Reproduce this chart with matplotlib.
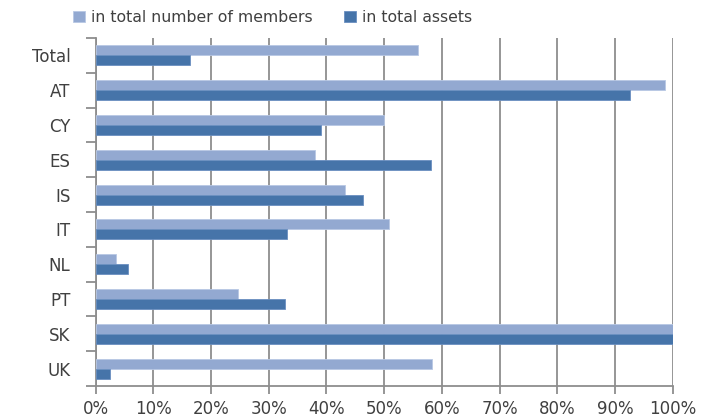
import numpy as np
import matplotlib
matplotlib.use("Agg")
import matplotlib.pyplot as plt
from matplotlib.ticker import FixedLocator, FuncFormatter

categories = ["Total", "AT", "CY", "ES", "IS", "IT", "NL", "PT", "SK", "UK"]
share_members = [55.9, 98.6, 50.0, 38.0, 43.2, 50.8, 3.5, 24.6, 100.0, 58.3]
share_assets = [16.4, 92.6, 39.1, 58.2, 46.4, 33.1, 5.7, 32.9, 100.0, 2.5]
x_ticks = list(range(0, 101, 10))

light = "#93A9D1"
dark = "#4674A9"
grid_c = "#8E8E8E"
text_c = "#404040"

plt.rcParams["font.family"] = ["DejaVu Sans"]

fig = plt.figure(figsize=(7.05, 4.17), dpi=100)
ax = fig.add_axes([0.1355, 0.0743, 0.8187, 0.8346])

n = len(categories)
pos = np.arange(n)[::-1].astype(float)  # Total at the top
bh = 0.285
ax.barh(pos + bh / 2, share_members, height=bh, color=light,
        edgecolor="#B8C8E4", linewidth=0.6, label="in total number of members", zorder=3)
ax.barh(pos - bh / 2, share_assets, height=bh, color=dark,
        edgecolor="#6A8FC0", linewidth=0.6, label="in total assets", zorder=3)

ax.set_xlim(0, 100)
ax.set_ylim(-0.5, n - 0.5)

ax.set_xticks(x_ticks)
ax.xaxis.set_major_formatter(FuncFormatter(lambda v, p: f"{int(v)}%"))
ax.set_yticks(pos)
ax.set_yticklabels(categories)
ax.yaxis.set_minor_locator(FixedLocator(np.arange(n + 1) - 0.5))

ax.grid(axis="x", color=grid_c, linewidth=1.3, zorder=0)
ax.set_axisbelow(True)

for s in ["top", "right"]:
    ax.spines[s].set_visible(False)
for s in ["left", "bottom"]:
    ax.spines[s].set_color(grid_c)
    ax.spines[s].set_linewidth(1.3)

ax.tick_params(axis="y", which="major", length=0, pad=18, labelsize=12, labelcolor=text_c)
ax.tick_params(axis="y", which="minor", length=7, width=1.3, color=grid_c)
ax.tick_params(axis="x", which="major", length=6, width=1.3, color=grid_c,
               labelsize=12, labelcolor=text_c, pad=4)

handles, labels = ax.get_legend_handles_labels()
fig.legend(handles, labels, loc="center", bbox_to_anchor=(0.387, 0.958), ncol=2,
           frameon=False, fontsize=11.3, labelcolor=text_c, handlelength=0.75,
           handleheight=0.75, handletextpad=0.4, columnspacing=2.0)

fig.savefig("out.png", dpi=100, facecolor="white")
